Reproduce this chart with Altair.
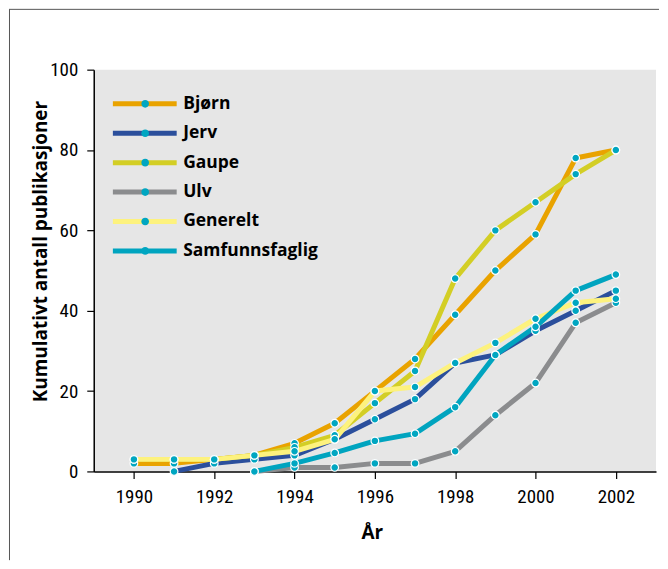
import altair as alt
import pandas as pd

years = list(range(1990, 2003))
series_names = ["Bjørn", "Jerv", "Gaupe", "Ulv", "Generelt", "Samfunnsfaglig"]
bjorn = [2, 2, 3, 4, 7, 12, 20, 28, 39, 50, 59, 78, 80]
jerv = [None, 0, 2, 3, 4, 8, 13, 18, 27, 29, 35, 40, 45]
gaupe = [3, 3, 3, 4, 6, 9, 17, 25, 48, 60, 67, 74, 80]
ulv = [None, None, None, 0, 1, 1, 2, 2, 5, 14, 22, 37, 42]
generelt = [3, 3, 3, 4, 5, 8, 20, 21, 27, 32, 38, 42, 43]
samfunn = [None, None, None, 0, 2, 4.6, 7.6, 9.4, 16, 29, 36, 45, 49]
line_colors = ["#E9A300", "#2B4F9C", "#D3CE25", "#8B8C8E", "#FDF27E", "#00A4BF"]
dot_color = "#00A6C1"
x_ticks = [1990, 1992, 1994, 1996, 1998, 2000, 2002]
y_ticks = [0, 20, 40, 60, 80, 100]

all_series = [bjorn, jerv, gaupe, ulv, generelt, samfunn]
rows = []
for name, vals in zip(series_names, all_series):
    for yr, v in zip(years, vals):
        if v is not None:
            rows.append({"year": yr, "value": v, "series": name, "key": name + " "})
df = pd.DataFrame(rows)
keys = [n + " " for n in series_names]

W, H = 564, 403
bold_font = "Open Sans"
tick_font = "Liberation Sans Narrow, Roboto Condensed, Roboto"

dot_path = "M0.12,0A0.12,0.12,0,1,1,-0.12,0A0.12,0.12,0,1,1,0.12,0Z"

x_enc = alt.X("year:Q", scale=alt.Scale(domain=[1989, 2003], nice=False, zero=False),
              axis=alt.Axis(values=x_ticks, format="d", title="År", grid=False,
                            titleY=61, titleX=279, titleBaseline="middle"))
y_enc = alt.Y("value:Q", scale=alt.Scale(domain=[0, 100], nice=False),
              axis=alt.Axis(values=y_ticks, title="Kumulativt antall publikasjoner", grid=False,
                            titleX=-53, titleY=182, titleBaseline="middle", titleAngle=-90))

legend_common = dict(title=None, orient="none", legendX=16.7, legendY=24.3,
                     symbolSize=4096, clipHeight=20, rowPadding=9.5, padding=0,
                     labelOffset=4, labelFont=bold_font,
                     labelFontSize=17.5, labelFontWeight="bold", labelColor="black")

lines = alt.Chart(df).mark_line(strokeWidth=5, strokeJoin="round", strokeCap="round").encode(
    x=x_enc, y=y_enc,
    color=alt.Color("series:N", scale=alt.Scale(domain=series_names, range=line_colors),
                    legend=alt.Legend(symbolType="stroke", symbolStrokeWidth=5, symbolOffset=0,
                                      **legend_common)),
)

points = alt.Chart(df).mark_point(filled=True, fill=dot_color, stroke="white", strokeWidth=1.2,
                                  size=4096, opacity=1).encode(
    x=x_enc, y=y_enc,
    shape=alt.Shape("key:N", scale=alt.Scale(domain=keys, range=[dot_path] * 6),
                    legend=alt.Legend(symbolFillColor=dot_color, symbolStrokeColor="white",
                                      symbolStrokeWidth=1.2, labelOpacity=0, symbolOffset=1.9,
                                      **legend_common)),
)

frame_left = alt.Chart(alt.Data(values=[{}])).mark_rule(stroke="#555555", strokeWidth=1).encode(
    x=alt.value(-84.5), y=alt.value(-60.5), y2=alt.value(492))
frame_top = alt.Chart(alt.Data(values=[{}])).mark_rule(stroke="#555555", strokeWidth=1).encode(
    x=alt.value(-85), x2=alt.value(567), y=alt.value(-60.5))

chart = alt.layer(frame_left, frame_top, lines, points).properties(
    width=W, height=H, background="white", padding=0
).configure_view(fill="#E6E6E6", stroke=None).configure_axis(
    domainColor="black", domainWidth=1.5, tickColor="black", tickWidth=1.2, tickSize=7,
    labelFont=tick_font, labelFontSize=19, labelColor="black", labelPadding=9,
    titleFont=bold_font, titleFontSize=19, titleFontWeight="bold", titleColor="black"
)

chart.save("out.html", embed_options={"renderer": "svg", "actions": False})
